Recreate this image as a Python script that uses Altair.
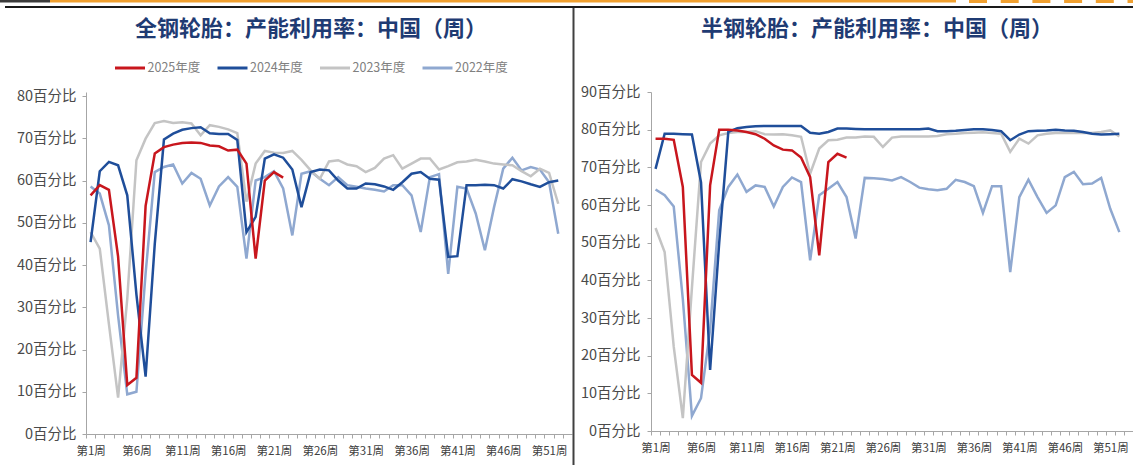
import altair as alt
import pandas as pd

FONT = "Noto Sans CJK SC"
YEARS = ["2025年度", "2024年度", "2023年度", "2022年度"]
COLORS = ["#C8161D", "#1F4E9A", "#C4C4C4", "#8FA8D0"]

# ---- 全钢轮胎 (all-steel) weekly capacity utilisation, % ----
allsteel_2025 = [56.5, 58.9, 57.8, 42.0, 11.6, 13.3, 54.0, 66.4, 67.9, 68.5, 68.9, 69.0, 68.9, 68.3,
                 68.1, 67.1, 67.3, 64.0, 41.5, 60.0, 62.0, 60.7]
allsteel_2024 = [45.4, 62.2, 64.4, 63.6, 56.5, 33.0, 13.6, 45.0, 69.7, 71.1, 72.0, 72.4, 72.6, 71.2,
                 71.0, 71.0, 69.6, 47.8, 51.4, 65.2, 66.2, 65.4, 62.6, 53.7, 62.0, 62.6, 62.4, 60.0,
                 58.1, 58.1, 59.3, 59.1, 58.6, 57.8, 59.6, 61.6, 62.0, 60.4, 60.2, 41.9, 42.1, 58.9,
                 58.9, 59.0, 58.9, 58.1, 60.3, 59.8, 59.1, 58.5, 59.6, 60.0]
allsteel_2023 = [47.8, 43.9, 26.0, 8.6, 32.0, 64.8, 69.9, 73.6, 74.1, 73.6, 73.8, 73.5, 70.7, 73.1,
                 72.7, 72.1, 71.2, 55.0, 64.0, 67.0, 66.6, 66.5, 67.0, 64.9, 62.4, 60.4, 64.5, 64.8,
                 63.8, 63.4, 62.0, 63.0, 65.2, 66.0, 62.8, 64.0, 65.2, 65.2, 62.6, 63.4, 64.3, 64.5,
                 64.9, 64.5, 64.0, 63.8, 63.6, 62.2, 61.0, 62.8, 61.8, 54.5]
allsteel_2022 = [58.6, 56.9, 49.4, 28.0, 9.4, 10.0, 38.0, 62.0, 63.2, 63.8, 59.3, 61.8, 60.4, 54.1,
                 58.6, 60.8, 58.5, 41.5, 60.0, 60.8, 62.2, 58.1, 47.0, 61.6, 62.2, 60.4, 58.9, 60.8,
                 58.9, 58.5, 58.1, 57.8, 57.4, 58.9, 58.9, 56.5, 47.8, 60.8, 61.5, 37.9, 58.5, 58.1,
                 52.2, 43.5, 53.7, 62.8, 65.4, 62.4, 63.2, 62.6, 59.6, 47.4]

# ---- 半钢轮胎 (semi-steel) weekly capacity utilisation, % ----
semisteel_2025 = [77.6, 77.6, 77.3, 64.8, 14.9, 12.8, 65.2, 80.0, 80.0, 79.8, 79.4, 78.8, 77.6, 75.8,
                  74.7, 74.5, 72.6, 67.4, 46.6, 71.4, 73.6, 72.6]
semisteel_2024 = [69.6, 78.9, 78.9, 78.8, 78.7, 66.0, 16.2, 50.0, 79.4, 80.4, 80.7, 80.9, 81.0, 81.0,
                  81.0, 81.0, 81.0, 79.2, 78.9, 79.4, 80.3, 80.3, 80.2, 80.1, 80.1, 80.1, 80.1, 80.1,
                  80.1, 80.1, 80.3, 79.6, 79.6, 79.7, 79.9, 80.1, 80.1, 79.9, 79.6, 77.2, 78.7, 79.6,
                  79.7, 79.8, 80.0, 79.8, 79.7, 79.4, 78.9, 78.7, 78.8, 78.9]
semisteel_2023 = [53.9, 47.5, 22.4, 3.4, 38.0, 71.4, 76.3, 78.5, 79.1, 79.4, 79.4, 79.6, 78.8, 78.7,
                  78.8, 78.5, 78.1, 68.3, 75.0, 77.2, 77.3, 77.9, 77.9, 78.2, 78.1, 75.4, 77.9, 78.2,
                  78.2, 78.2, 78.2, 78.3, 78.8, 78.9, 79.1, 79.2, 79.3, 79.1, 78.9, 74.1, 77.6, 76.3,
                  78.5, 78.9, 79.1, 79.1, 79.1, 79.1, 79.1, 79.4, 79.8, 78.2]
semisteel_2022 = [64.1, 62.6, 59.6, 35.0, 4.0, 8.7, 27.0, 58.6, 64.8, 68.1, 63.5, 65.2, 64.8, 59.6,
                  64.8, 67.3, 66.1, 45.3, 62.6, 64.3, 66.1, 62.1, 51.1, 67.2, 67.1, 66.9, 66.5, 67.4,
                  66.1, 64.6, 64.2, 63.9, 64.3, 66.7, 66.1, 65.0, 57.9, 65.0, 65.0, 42.2, 62.1, 66.7,
                  62.1, 57.9, 59.9, 67.4, 68.8, 65.5, 65.7, 67.2, 59.0, 52.8]

LEFT_TITLE = "全钢轮胎：产能利用率：中国（周）"
RIGHT_TITLE = "半钢轮胎：产能利用率：中国（周）"
LEFT_TICKS = [0, 10, 20, 30, 40, 50, 60, 70, 80]
RIGHT_TICKS = [0, 10, 20, 30, 40, 50, 60, 70, 80, 90]
N_WEEKS = 53


def to_long(series):
    rows = []
    for year, vals in zip(YEARS, series):
        for i, v in enumerate(vals):
            rows.append({"year": year, "week": i + 1, "value": v})
    return pd.DataFrame(rows)


ONE = pd.DataFrame({"k": [0]})


def rect(x, x2, y, y2, color):
    return alt.Chart(ONE).mark_rect(color=color).encode(
        x=alt.value(x), x2=alt.value(x2), y=alt.value(y), y2=alt.value(y2))


def panel(series, title, ymax, yticks, width, height, title_x, legend_x, ylab_pad, decos):
    df = to_long(series)
    step = width / N_WEEKS
    x_enc = alt.X(
        "week:Q", title=None,
        scale=alt.Scale(domain=[0.5, N_WEEKS + 0.5], nice=False, zero=False),
        axis=alt.Axis(
            values=list(range(1, N_WEEKS + 2)),
            labelExpr="(datum.value % 5 == 1 && datum.value <= 51) ? '第' + datum.value + '周' : ''",
            tickOffset=-step / 2, labelOffset=step / 2, labelFlush=False, labelOverlap=False,
            tickSize=4, labelPadding=7, labelFont=FONT, labelFontSize=11.5, labelColor="#404040",
            domainColor="#A6A6A6", tickColor="#A6A6A6", grid=False))
    y_enc = alt.Y(
        "value:Q", title=None,
        scale=alt.Scale(domain=[0, ymax], nice=False, zero=True),
        axis=alt.Axis(
            values=yticks, labelExpr="datum.value + '百分比'", tickSize=4, labelPadding=ylab_pad,
            labelFont=FONT, labelFontSize=14.5, labelColor="#4A4A4A",
            domainColor="#A6A6A6", tickColor="#A6A6A6", grid=False))
    color = alt.Color(
        "year:N", scale=alt.Scale(domain=YEARS, range=COLORS), sort=YEARS,
        legend=alt.Legend(
            orient="none", legendX=legend_x, legendY=-40.5, direction="horizontal", title=None,
            symbolType="stroke", symbolSize=900, symbolStrokeWidth=3, labelFont=FONT,
            labelFontSize=12.5, labelColor="#808080", labelOffset=1, columnPadding=10.5,
            padding=0))
    base = alt.Chart(df).encode(x=x_enc, y=y_enc, color=color)
    lines = [base.transform_filter(alt.datum.year == y).mark_line(strokeWidth=2.5)
             for y in reversed(YEARS)]
    ttl = alt.Chart(ONE).mark_text(
        text=title, font=FONT, fontSize=22, fontWeight="bold", color="#1F3B73",
        align="center", baseline="middle").encode(x=alt.value(title_x), y=alt.value(-63))
    return alt.layer(*decos, *lines, ttl).properties(width=width, height=height)


# decorations (page frame), in each panel's own pixel frame
left_decos = [
    rect(-86, -36, -92, -89.5, "#3C3C3C"),
    rect(-36, 870, -92, -89.5, "#F0A030"),
    rect(-81, 488, -86, -84, "#1A1A1A"),
    rect(486.5, 488.5, -84, 373, "#404040"),
]
right_decos = [rect(-77, 482, -86, -84, "#1A1A1A")]
for k in range(6):
    x0 = 318 + 31.7 * k
    right_decos.append(rect(x0, min(x0 + 18, 482), -92, -89, "#F0A030"))

left = panel([allsteel_2025, allsteel_2024, allsteel_2023, allsteel_2022], LEFT_TITLE,
             80.95, LEFT_TICKS, 486, 342, 225, 27.5, 6, left_decos)
right = panel([semisteel_2025, semisteel_2024, semisteel_2023, semisteel_2022], RIGHT_TITLE,
              90, RIGHT_TICKS, 482, 339, 226, 26.5, 7, right_decos)

chart = alt.hconcat(left, right, spacing=79, bounds="flush").properties(
    padding=0, background="white"
).configure_view(stroke=None)

chart.save("out.html", embed_options={"renderer": "svg", "actions": False})
